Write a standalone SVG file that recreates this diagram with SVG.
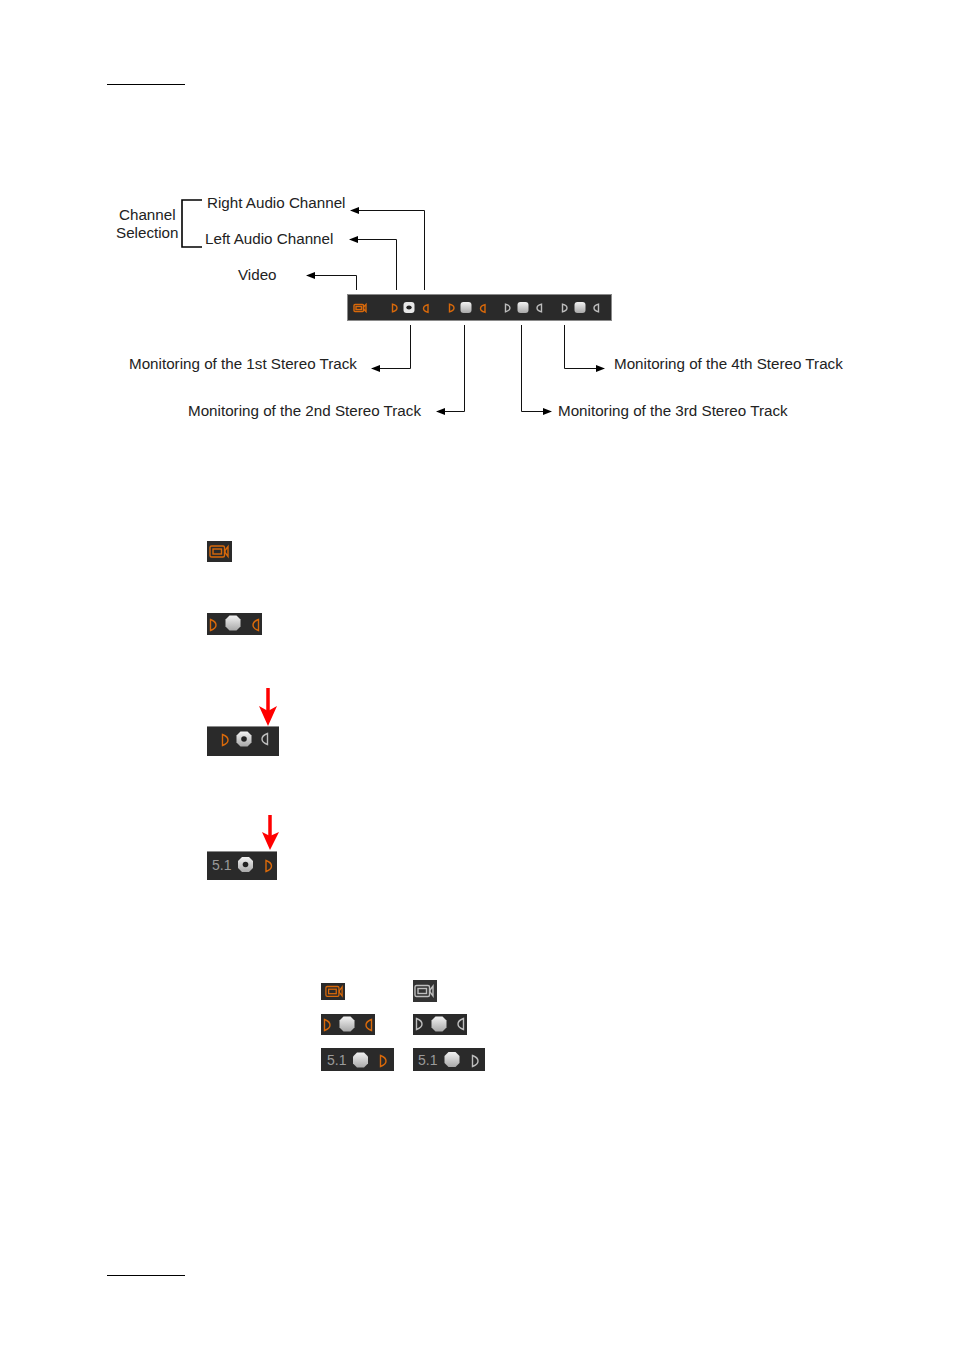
<svg xmlns="http://www.w3.org/2000/svg" width="954" height="1350" viewBox="0 0 954 1350">
<style>
text{font-family:"Liberation Sans",Arial,sans-serif;font-size:15.2px;fill:#222}
.c{fill:none;stroke:#111;stroke-width:1}
.b{fill:none;stroke:#000;stroke-width:1.6}
.bar{fill:#2a2a2a}
.o{fill:none;stroke:#d9690a;stroke-width:1.400}
.g{fill:none;stroke:#bdbdbd;stroke-width:1.400}
.t{font-size:14px;fill:#9a9a9a}
</style>
<defs>
<linearGradient id="k" x1="0" y1="0" x2="0" y2="1"><stop offset="0" stop-color="#f2f2f2"/><stop offset="1" stop-color="#a8a8a8"/></linearGradient>
<marker id="a" markerWidth="9" markerHeight="7" refX="8" refY="3.500" orient="auto" markerUnits="userSpaceOnUse"><path d="M0 0L9 3.500L0 7z" fill="#000"/></marker>
<path id="rd" d="M-3.500 -7.500H3.500L7.500 -3.500V3.500L3.500 7.500H-3.500L-7.500 3.500V-3.500z" fill="url(#k)"/>
<g id="sm"><rect x="-5.500" y="-5.500" width="11" height="11" rx="3" fill="url(#k)"/></g>
<g id="smr"><rect x="-5.500" y="-5.500" width="11" height="11" rx="3" fill="#e8e8e8"/><ellipse cx="0" cy="0" rx="2.700" ry="2" fill="#222"/></g>
<g id="ring"><path d="M-3.500 -7.500H3.500L7.500 -3.500V3.500L3.500 7.500H-3.500L-7.500 3.500V-3.500z" fill="url(#k)"/><circle r="2.800" fill="#222"/></g>
<g id="cam"><rect x="-9" y="-5.500" width="14.500" height="11" rx="1.500"/><rect x="-6" y="-2.500" width="8.500" height="5"/><path d="M6 -1L9 -5V5L6 1z"/></g>
<g id="cams"><rect x="-6" y="-3.500" width="9.500" height="7" rx="1"/><rect x="-4" y="-1.500" width="5.500" height="3"/><path d="M3.500 -1L6 -3.500V3.500L3.500 1z"/></g>
<path id="dl" d="M-2.500 -5.500Q3 -3.500 3 0Q3 3.500 -2.500 5.500z"/>
<path id="dr" d="M2.500 -5.500Q-3 -3.500 -3 0Q-3 3.500 2.500 5.500z"/>
<path id="dls" d="M-2 -3.800Q2.500 -2.500 2.500 0Q2.500 2.500 -2 3.800z"/>
<path id="drs" d="M2 -3.800Q-2.500 -2.500 -2.500 0Q-2.500 2.500 2 3.800z"/>
</defs>

<g id="page-rules">
<path d="M107 84.500H185M107 1275.500H185" stroke="#000" stroke-width="1" fill="none"/>
</g>

<g id="connectors">
<path class="c" d="M424.500 290V210.500H351" marker-end="url(#a)"/>
<path class="c" d="M396.500 290V239.500H350" marker-end="url(#a)"/>
<path class="c" d="M356.500 290V275.500H307" marker-end="url(#a)"/>
<path class="c" d="M410.500 325V368.500H372" marker-end="url(#a)"/>
<path class="c" d="M464.500 325V411.500H437" marker-end="url(#a)"/>
<path class="c" d="M521.500 325V411.500H551" marker-end="url(#a)"/>
<path class="c" d="M564.500 325V368.500H604" marker-end="url(#a)"/>
<path class="b" d="M202 200H182V247H202"/>
</g>

<g id="labels">
<text x="119" y="220">Channel</text>
<text x="116" y="238">Selection</text>
<text x="207" y="208">Right Audio Channel</text>
<text x="205" y="244">Left Audio Channel</text>
<text x="238" y="280">Video</text>
<text x="129" y="369">Monitoring of the 1st Stereo Track</text>
<text x="188" y="416">Monitoring of the 2nd Stereo Track</text>
<text x="558" y="416">Monitoring of the 3rd Stereo Track</text>
<text x="614" y="369">Monitoring of the 4th Stereo Track</text>
</g>

<g id="toolbar">
<rect x="347.500" y="294.500" width="264" height="26" fill="#2a2a2a" stroke="#8a8a8a"/>
<use href="#cams" x="360" y="308" class="o"/>
<use href="#dls" x="394.500" y="308" class="o"/>
<use href="#smr" x="409" y="307.500"/>
<use href="#drs" x="426" y="308.500" class="o"/>
<use href="#dls" x="451.500" y="308" class="o"/>
<use href="#sm" x="466" y="307.500"/>
<use href="#drs" x="483" y="308.500" class="o"/>
<use href="#dls" x="507.500" y="308" class="g"/>
<use href="#sm" x="523" y="307.500"/>
<use href="#drs" x="539.500" y="308" class="g"/>
<use href="#dls" x="564.500" y="308" class="g"/>
<use href="#sm" x="580" y="307.500"/>
<use href="#drs" x="596.500" y="308" class="g"/>
</g>

<g id="icon-video">
<rect class="bar" x="207" y="541" width="25" height="21"/>
<use href="#cam" x="219" y="551.500" class="o"/>
</g>

<g id="icon-stereo">
<rect class="bar" x="207" y="613" width="55" height="22"/>
<use href="#dl" x="213" y="625" class="o"/>
<use href="#rd" x="233" y="623"/>
<use href="#dr" x="256" y="625" class="o"/>
</g>

<g id="icon-left-monitor">
<rect class="bar" x="207" y="726" width="72" height="30"/>
<path d="M207 726.500H279" stroke="#8a8a8a"/>
<use href="#dl" x="225" y="740" class="o"/>
<use href="#ring" x="244" y="739"/>
<use href="#dr" x="265" y="739" class="g"/>
<path d="M268 688V712" stroke="#f00" stroke-width="3.500" fill="none"/>
<path d="M259 706L268 726L277 706L268 711z" fill="#f00"/>
</g>

<g id="icon-surround-monitor">
<rect class="bar" x="207" y="851" width="70" height="29"/>
<path d="M207 851.500H277" stroke="#8a8a8a"/>
<text class="t" x="212" y="870">5.1</text>
<use href="#ring" x="245.500" y="864.500"/>
<use href="#dl" x="268.500" y="866" class="o"/>
<path d="M270 815V838" stroke="#f00" stroke-width="3.500" fill="none"/>
<path d="M262 832L270 850L279 832L270 836z" fill="#f00"/>
</g>

<g id="table-icons">
<rect class="bar" x="321" y="983" width="24" height="17"/>
<use href="#cam" x="334" y="991.500" class="o" transform="translate(33.400 99.100) scale(0.900)"/>
<rect x="413" y="980" width="24" height="22" fill="#333"/>
<use href="#cam" x="424" y="991" class="g"/>
<rect class="bar" x="321" y="1014" width="54" height="21"/>
<use href="#dl" x="327" y="1025" class="o"/>
<use href="#rd" x="347" y="1024"/>
<use href="#dr" x="369" y="1025" class="o"/>
<rect class="bar" x="413" y="1014" width="54" height="21"/>
<use href="#dl" x="419" y="1024" class="g"/>
<use href="#rd" x="439" y="1024"/>
<use href="#dr" x="461" y="1024" class="g"/>
<rect class="bar" x="321" y="1048" width="73" height="23"/>
<text class="t" x="327" y="1065">5.1</text>
<use href="#rd" x="360.500" y="1060"/>
<use href="#dl" x="383" y="1061" class="o"/>
<rect class="bar" x="413" y="1048" width="72" height="23"/>
<text class="t" x="418" y="1065">5.1</text>
<use href="#rd" x="452" y="1059.500"/>
<use href="#dl" x="475" y="1061" class="g"/>
</g>
</svg>
